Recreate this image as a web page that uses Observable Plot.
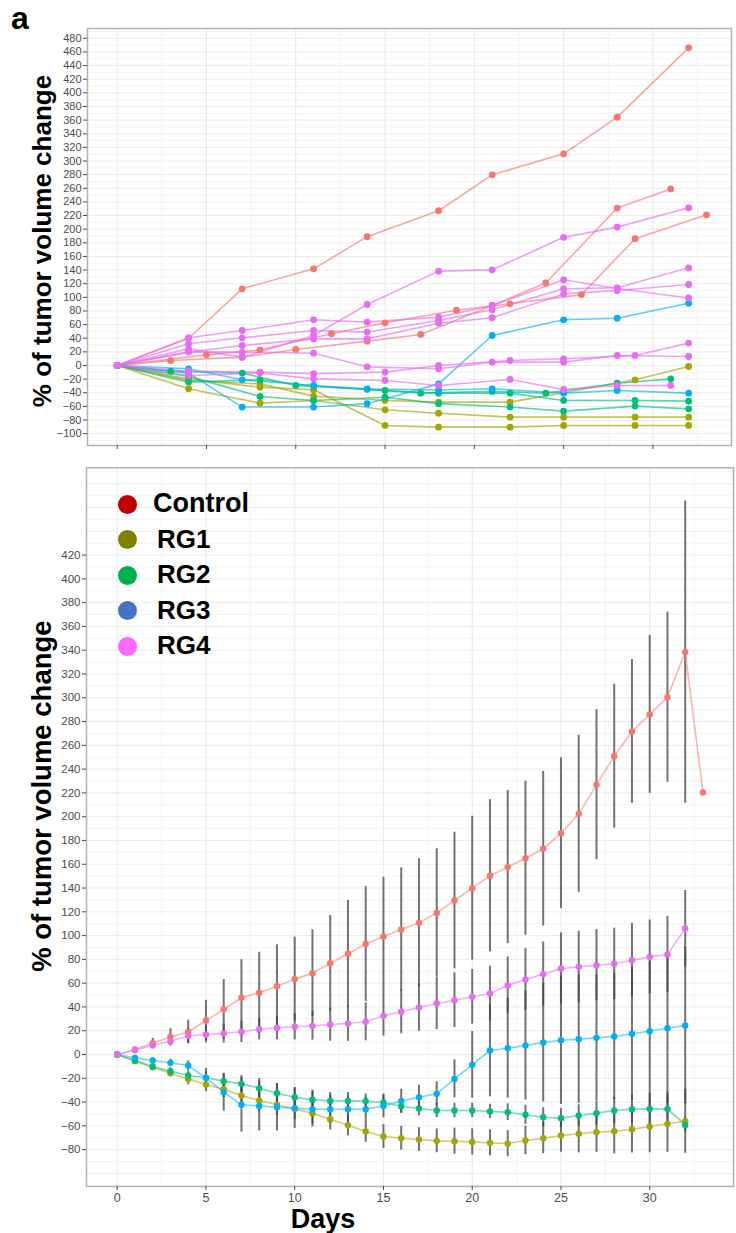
<!DOCTYPE html>
<html><head><meta charset="utf-8">
<script src="https://cdn.jsdelivr.net/npm/d3@7"></script>
<script src="https://cdn.jsdelivr.net/npm/@observablehq/plot@0.6"></script>
<style>
body{margin:0;background:#fff;font-family:"Liberation Sans",Arial,sans-serif;}
#wrap{position:relative;width:736px;height:1233px;overflow:hidden;background:#fff}
.abs{position:absolute}
.lg-dot{position:absolute;width:19px;height:19px;border-radius:50%}
.lg-txt{position:absolute;font-weight:bold;font-size:26px;line-height:26px;color:#000;white-space:nowrap}
</style></head><body>
<div id="wrap">
  <div id="top" class="abs" style="left:0;top:0"></div>
  <div id="bot" class="abs" style="left:0;top:455px"></div>
  <div class="abs" style="left:11px;top:0;font-size:32px;font-weight:bold;line-height:normal">a</div>
  <div id="legend" class="abs" style="left:0;top:0"></div>
</div>
<script>
// ---------- groups ----------
const groups = ["Control", "RG1", "RG2", "RG3", "RG4"];
const lineColors = ["#F8766D", "#A3A500", "#00BF7D", "#00B0F6", "#E76BF3"];
const legendColors = ["#C00000", "#808000", "#00B050", "#4472C4", "#FF66FF"];

// ---------- top panel: individual animals [day, % change] ----------
const control1 = [[0,0],[4,40],[7,112.5],[11,141.8],[14,189],[18,227],[21,279.7],[25,310.5],[28,364.3],[32,466]];
const control2 = [[0,0],[3,7.3],[7,12.2],[10,23.5],[14,35.7],[17,45.5],[21,88],[24,121],[28,231],[31,259]];
const control3 = [[0,0],[5,15.6],[8,23],[12,46.5],[15,62.6],[19,81],[22,90.5],[26,104],[29,186],[33,221]];
const rg1a = [[0,0],[4,-22],[8,-27],[11,-45],[15,-51.3],[18,-53.8],[22,-53.8],[25,-40],[29,-21],[32,-1.5]];
const rg1b = [[0,0],[4,-34.2],[8,-55.3],[11,-51.3],[15,-65],[18,-70],[22,-75.8],[25,-75.8],[29,-75.8],[32,-75.8]];
const rg1c = [[0,0],[4,-20],[8,-31.8],[11,-35.7],[15,-88],[18,-90.5],[22,-90.5],[25,-88],[29,-88],[32,-88]];
const rg2a = [[0,0],[3,-8.3],[7,-11.2],[10,-29.3],[14,-35],[17,-40.6],[21,-38],[24,-40.6],[28,-26],[31,-19.6]];
const rg2b = [[0,0],[4,-24.4],[8,-21],[11,-30],[15,-36.7],[18,-40.6],[22,-40.6],[25,-51.3],[29,-51.3],[32,-52.3]];
const rg2c = [[0,0],[4,-16],[8,-45.5],[11,-51.3],[15,-46.5],[18,-56],[22,-61],[25,-67],[29,-59.6],[32,-63.6]];
const rg3a = [[0,0],[4,-11.2],[7,-61],[11,-61],[14,-56],[18,-27],[21,44],[25,67],[28,69.4],[32,91.4]];
const rg3b = [[0,0],[4,-4.9],[7,-21],[11,-29.3],[14,-34.2],[18,-36],[21,-34.2],[25,-40.6],[28,-36.7],[32,-40.6]];
const rg4a = [[0,0],[4,24.4],[7,12.2],[11,44],[14,89.5],[18,138.4],[21,140.3],[25,188],[28,203],[32,231.3]];
const rg4b = [[0,0],[4,40.6],[7,51.3],[11,67],[14,63.6],[18,70.9],[21,88],[25,125.7],[28,113],[32,99]];
const rg4c = [[0,0],[4,31.8],[7,40.6],[11,51.3],[14,49],[18,66],[21,81.7],[25,112.5],[28,114],[32,143.3]];
const rg4d = [[0,0],[4,19.6],[7,29.3],[11,39],[14,39],[18,62],[21,70],[25,105],[28,110],[32,118.8]];
const rg4e = [[0,0],[4,-8],[8,-9.8],[11,-12],[15,-9.8],[18,0],[22,7.3],[25,9.8],[29,14.7],[32,32.8]];
const rg4f = [[0,0],[4,20],[7,19.6],[11,18],[14,-2],[18,-4.9],[21,4.9],[25,4.9],[28,14.7],[32,13.2]];
const rg4g = [[0,0],[4,-14.7],[8,-11],[11,-19.6],[15,-22],[18,-29.3],[22,-20.5],[25,-35.2],[28,-29.3],[31,-29.3]];

const animals = [
  ["Control","c1",control1],["Control","c2",control2],["Control","c3",control3],
  ["RG1","a1",rg1a],["RG1","a2",rg1b],["RG1","a3",rg1c],
  ["RG2","b1",rg2a],["RG2","b2",rg2b],["RG2","b3",rg2c],
  ["RG3","d1",rg3a],["RG3","d2",rg3b],
  ["RG4","e1",rg4a],["RG4","e2",rg4b],["RG4","e3",rg4c],["RG4","e4",rg4d],["RG4","e5",rg4e],["RG4","e6",rg4f],["RG4","e7",rg4g]
];

// ---------- bottom panel: group means and error bars by day ----------
const days = d3.range(0, 34);
const controlMean = [0,4.3,9.6,14.7,18.9,28.6,38,47.7,52,57.5,63.4,68.4,76.8,84.7,93,99.2,105.1,110.7,119.1,129.5,139.9,150.3,157.6,165.1,173,186.1,202.4,226.8,250.9,271.7,286,300.5,338.4,220.4];
const controlErr  = [0,2,4,7,10,17,25,32,34,34.7,35.3,36.5,40.1,44.8,48.3,49.9,51.9,53.9,53.9,57.5,60.5,64,64.4,64.8,65,63.4,66,63.1,60.5,60.5,66.4,71.5,127,null];
const rg1Mean = [0,-5.6,-10.7,-15.7,-20.5,-25.2,-29.2,-34.5,-38.7,-42.3,-45.7,-49.3,-54.4,-59.4,-64.8,-69,-70.4,-71.5,-72.6,-72.9,-73.5,-74.3,-74.9,-72.3,-70.4,-68.1,-66.7,-65.3,-64.5,-62.8,-60.6,-58.3,-56.1];
const rg1Err  = [0,1,2,3,5,6,7,8,9,9,9,9,9,9,9,10,10,10,10,11,11,11,11,12,13,14,16,17,19,20,22,24,27];
const rg2Mean = [0,-5,-10,-14,-17.7,-19.6,-22.4,-24.7,-28.3,-32.5,-35.9,-38.1,-39,-39,-39.2,-40.4,-43.5,-45.4,-47.1,-47.1,-47.1,-47.9,-48.5,-50.7,-52.7,-53.5,-51.3,-49.3,-47.1,-46,-45.7,-45.7,-59.2];
const rg2Err  = [0,1,2,3,4,5,6,7,8,8,8,8,7,7,6,6,6,6,6,6,6,6,7,8,8,8,9,10,11,12,13,14,6];
const rg3Mean = [0,-2.8,-5,-7,-9.3,-19.6,-31.7,-42.3,-43.2,-44.3,-45.1,-46,-46,-46,-46,-43.2,-39.2,-35.9,-33,-20.5,-8.7,3.4,5.3,7.6,10.1,12,12.9,14,15.1,17.4,19.6,22.1,24.4];
const rg3Err  = [0,1,2,3,4,8,16,23,21,20,17,15,12,11,10,10,10,10,10,16,28,39,42,46,50,54,54,53,53,56,59,63,66];
const rg4Mean = [0,3.6,7.8,11.2,15.7,16.8,17.7,19.1,21.3,22.4,23.3,24.1,25.2,26.1,27.5,32.5,35.9,39.5,42.9,45.7,48.5,51.3,58,63.1,67.6,72.3,73.7,75.1,76.3,79.3,82.1,84.1,106];
const rg4Err  = [0,2,3,4,6,7,8,9,9,10,11,12,14,15,16,17,18.5,20,22,23,23,23,24,26,27,30,30,30,30,31,31,32,32];

// ---------- ticks ----------
const yTicksTop = [-100,-80,-60,-40,-20,0,20,40,60,80,100,120,140,160,180,200,220,240,260,280,300,320,340,360,380,400,420,440,460,480];
const yTicksBot = [-80,-60,-40,-20,0,20,40,60,80,100,120,140,160,180,200,220,240,260,280,300,320,340,360,380,400,420];
const yGridMajor = [-100,-80,-60,-40,-20,0,20,40,60,80,100,120,140,160,180,200,220,240,260,280,300,320,340,360,380,400,420,440,460,480];
const yGridMinor = [-110,-90,-70,-50,-30,-10,10,30,50,70,90,110,130,150,170,190,210,230,250,270,290,310,330,350,370,390,410,430,450,470,490];
const xTicks = [0,5,10,15,20,25,30];
const xMinor = [2.5,7.5,12.5,17.5,22.5,27.5,32.5];

// ---------- build tables ----------
const topRows = animals.flatMap(([group, id, pts]) => pts.map(([day, value]) => ({group, id, day, value})));
const botSeries = [
  ["Control", controlMean, controlErr],
  ["RG1", rg1Mean, rg1Err],
  ["RG2", rg2Mean, rg2Err],
  ["RG3", rg3Mean, rg3Err],
  ["RG4", rg4Mean, rg4Err]
];
const botRows = botSeries.flatMap(([group, means, errs]) => means.map((m, i) => ({group, day: days[i], mean: m, err: errs[i]})));

const font = "Liberation Sans, Arial, sans-serif";
const colorScale = {domain: groups, range: lineColors};

function grid() {
  return [
    Plot.ruleY(yGridMinor, {stroke: "#f4f4f4", strokeWidth: 1}),
    Plot.ruleY(yGridMajor, {stroke: "#ebebeb", strokeWidth: 1}),
    Plot.ruleX(xMinor, {stroke: "#f2f2f2", strokeWidth: 1}),
    Plot.ruleX(xTicks, {stroke: "#e8e8e8", strokeWidth: 1})
  ];
}

const topPlot = Plot.plot({
  width: 736, height: 455,
  marginTop: 28, marginBottom: 10, marginLeft: 87, marginRight: 5,
  x: {domain: [-1.66, 34.4]},
  y: {domain: [-117.4, 494.4]},
  color: colorScale,
  style: {fontFamily: font, color: "#4d4d4d", background: "#fff"},
  marks: [
    ...grid(),
    Plot.frame({stroke: "#b3b3b3", strokeWidth: 1.5}),
    Plot.axisY({ticks: yTicksTop, tickSize: 4, tickPadding: 2, fontSize: 11, label: null}),
    Plot.axisX({ticks: xTicks, tickSize: 4, tickFormat: () => "", label: null}),
    Plot.line(topRows, {x: "day", y: "value", z: "id", stroke: "group", strokeWidth: 1.6, strokeOpacity: 0.65}),
    Plot.dot(topRows, {x: "day", y: "value", fill: "group", r: 3.4}),
    Plot.text(["% of tumor volume change"], {text: d => d, frameAnchor: "left", textAnchor: "middle", lineAnchor: "middle", dx: -45, dy: 4, rotate: -90, fontSize: 26, fontWeight: "bold", fill: "#000"})
  ]
});
document.getElementById("top").appendChild(topPlot);

const botPlot = Plot.plot({
  width: 736, height: 778,
  marginTop: 12.3, marginBottom: 47, marginLeft: 86, marginRight: 3,
  x: {domain: [-1.73, 34.72]},
  y: {domain: [-111, 493.4]},
  color: colorScale,
  style: {fontFamily: font, color: "#4d4d4d", background: "#fff"},
  marks: [
    ...grid(),
    Plot.frame({stroke: "#b3b3b3", strokeWidth: 1.5}),
    Plot.axisY({ticks: yTicksBot, tickSize: 4, tickPadding: 2, fontSize: 11.5, label: null}),
    Plot.axisX({ticks: xTicks, tickSize: 4, tickPadding: 3, fontSize: 12.5, label: null}),
    Plot.ruleX(botRows.filter(d => d.err != null && d.err > 0), {x: "day", y1: d => d.mean - d.err, y2: d => d.mean + d.err, stroke: "#444", strokeWidth: 2, strokeOpacity: 0.75}),
    Plot.line(botRows, {x: "day", y: "mean", z: "group", stroke: "group", strokeWidth: 1.6, strokeOpacity: 0.55}),
    Plot.dot(botRows, {x: "day", y: "mean", fill: "group", r: 3.2}),
    Plot.text(["% of tumor volume change"], {text: d => d, frameAnchor: "left", textAnchor: "middle", lineAnchor: "middle", dx: -44, dy: -31, rotate: -90, fontSize: 27.5, fontWeight: "bold", fill: "#000"}),
    Plot.text(["Days"], {text: d => d, frameAnchor: "bottom", textAnchor: "middle", lineAnchor: "middle", dx: -87, dy: 33, fontSize: 27, fontWeight: "bold", fill: "#000"})
  ]
});
document.getElementById("bot").appendChild(botPlot);

// ---------- legend ----------
const legend = document.getElementById("legend");
groups.forEach((g, i) => {
  const cy = 504 + i * 35.5;
  const dot = document.createElement("div");
  dot.className = "lg-dot";
  dot.style.left = (127 - 9.5) + "px";
  dot.style.top = (cy - 9.5) + "px";
  dot.style.background = legendColors[i];
  legend.appendChild(dot);
  const t = document.createElement("div");
  t.className = "lg-txt";
  t.style.left = (i === 0 ? 153 : 157) + "px";
  t.style.top = (cy - 14) + "px";
  t.style.fontSize = (i === 0 ? 27 : 26) + "px";
  t.textContent = g;
  legend.appendChild(t);
});
</script>
</body></html>
